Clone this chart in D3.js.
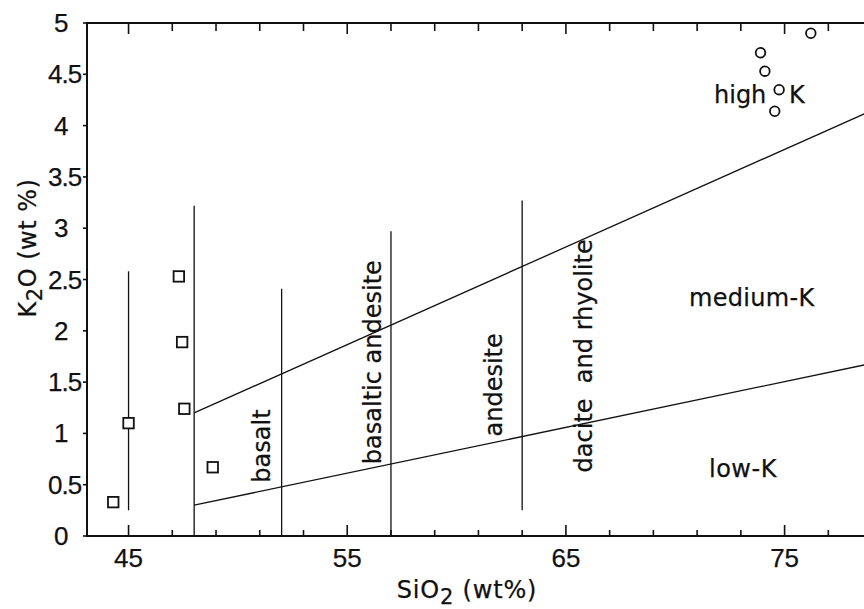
<!DOCTYPE html>
<html>
<head>
<meta charset="utf-8">
<script src="https://cdn.jsdelivr.net/npm/d3@7"></script>
<style>
  html, body { margin: 0; padding: 0; background: #fff; }
  svg { display: block; }
  text { font-family: "DejaVu Sans", sans-serif; fill: #111; stroke: #111; stroke-width: 0.25px; }
  .tick-label { font-family: "Liberation Sans", Arial, sans-serif; font-size: 26px; }
</style>
</head>
<body>
<svg id="chart" width="864" height="609"></svg>
<script>
// ---- data ----
const xMajorTicks = [45, 55, 65, 75];
const xMinorTicks = [47, 49, 51, 53, 57, 59, 61, 63, 67, 69, 71, 73, 77];
const yTicks = [0, 0.5, 1, 1.5, 2, 2.5, 3, 3.5, 4, 4.5, 5];
const yTickLabels = ["0", "0.5", "1", "1.5", "2", "2.5", "3", "3.5", "4", "4.5", "5"];

// vertical rock-type dividers (SiO2) with their K2O extents
const dividerSiO2 = [45, 48, 52, 57, 63];
const dividerTop = [2.58, 3.22, 2.41, 2.97, 3.27];
const dividerBottom = [0.25, 0, 0, 0, 0.25];

// K-series boundary lines [SiO2, K2O]
const highMediumBoundary = [[48, 1.2], [78.7, 4.12]];
const mediumLowBoundary = [[48, 0.3], [78.7, 1.67]];

// samples: squares
const squareSiO2 = [44.3, 45.0, 47.3, 47.45, 47.55, 48.85];
const squareK2O = [0.33, 1.10, 2.53, 1.89, 1.24, 0.67];
// samples: circles
const circleSiO2 = [76.2, 73.9, 74.1, 74.75, 74.55];
const circleK2O = [4.90, 4.71, 4.53, 4.35, 4.14];

// field labels
const verticalLabels = ["basalt", "basaltic andesite", "andesite", "dacite  and rhyolite"];
const verticalLabelSiO2 = [51.45, 56.55, 62.1, 66.2];
const verticalLabelK2O = [0.52, 0.7, 0.97, 0.62];

// ---- drawing ----
const svg = d3.select("#chart");
const x = d3.scaleLinear().domain([43.1, 78.7]).range([87, 865.5]);
const y = d3.scaleLinear().domain([0, 5]).range([536, 23]);
const xLeft = x.range()[0], xRight = 864;
const yBottom = y(0), yTop = y(5);

// frame (left, bottom, top)
svg.append("path")
  .attr("d", `M${xRight},${yTop} L${xLeft},${yTop} L${xLeft},${yBottom} L${xRight},${yBottom}`)
  .attr("fill", "none").attr("stroke", "#111").attr("stroke-width", 2);

// bottom ticks (inward) and top ticks (inward)
const allX = xMajorTicks.map(v => ({v, major: true})).concat(xMinorTicks.map(v => ({v, major: false})));
svg.append("g").selectAll("line.bt").data(allX).join("line")
  .attr("x1", d => x(d.v)).attr("x2", d => x(d.v))
  .attr("y1", yBottom).attr("y2", d => yBottom - (d.major ? 11 : 6))
  .attr("stroke", "#111").attr("stroke-width", 1.6);
svg.append("g").selectAll("line.tt").data(allX).join("line")
  .attr("x1", d => x(d.v)).attr("x2", d => x(d.v))
  .attr("y1", yTop).attr("y2", d => yTop + (d.major ? 11 : 8))
  .attr("stroke", "#111").attr("stroke-width", 1.6);

// x tick labels
svg.append("g").selectAll("text").data(xMajorTicks).join("text")
  .attr("class", "tick-label")
  .attr("x", d => x(d)).attr("y", yBottom + 31)
  .attr("text-anchor", "middle")
  .text(d => d);

// y ticks (outward, small)
svg.append("g").selectAll("line").data(yTicks).join("line")
  .attr("x1", xLeft).attr("x2", xLeft - 4)
  .attr("y1", d => y(d)).attr("y2", d => y(d))
  .attr("stroke", "#111").attr("stroke-width", 1.6);
svg.append("g").selectAll("text").data(yTicks).join("text")
  .attr("class", "tick-label")
  .attr("x", (d, i) => Number.isInteger(d) ? 54 : 48)
  .attr("y", d => y(d) + 9)
  .attr("letter-spacing", -1)
  .text((d, i) => yTickLabels[i]);

// axis titles
const xt = svg.append("text")
  .attr("x", 467).attr("y", 598)
  .attr("text-anchor", "middle")
  .attr("font-size", 24).attr("letter-spacing", 0.8);
xt.append("tspan").text("SiO");
xt.append("tspan").attr("dy", 6).attr("font-size", 21).text("2");
xt.append("tspan").attr("dy", -6).text(" (wt%)");

const yt = svg.append("text")
  .attr("transform", "translate(36,248) rotate(-90)")
  .attr("text-anchor", "middle")
  .attr("font-size", 24).attr("letter-spacing", 0.5);
yt.append("tspan").text("K");
yt.append("tspan").attr("dy", 6).attr("font-size", 21).text("2");
yt.append("tspan").attr("dy", -6).text("O (wt %)");

// dividers
svg.append("g").selectAll("line").data(dividerSiO2).join("line")
  .attr("x1", d => x(d)).attr("x2", d => x(d))
  .attr("y1", (d, i) => y(dividerTop[i])).attr("y2", (d, i) => y(dividerBottom[i]))
  .attr("stroke", "#111").attr("stroke-width", 1.3);

// boundary lines
const line = d3.line().x(d => x(d[0])).y(d => y(d[1]));
[highMediumBoundary, mediumLowBoundary].forEach(b => {
  svg.append("path").attr("d", line(b))
    .attr("fill", "none").attr("stroke", "#111").attr("stroke-width", 1.3);
});

// vertical field labels
svg.append("g").selectAll("text").data(verticalLabels).join("text")
  .attr("transform", (d, i) => `translate(${x(verticalLabelSiO2[i])},${y(verticalLabelK2O[i])}) rotate(-90)`)
  .attr("font-size", 24)
  .style("white-space", "pre")
  .text(d => d);

// series labels
const hk = svg.append("text").attr("x", 714).attr("y", 103).attr("font-size", 24);
hk.append("tspan").text("high");
hk.append("tspan").attr("x", 789).text("K");
svg.append("text").attr("x", 689).attr("y", 306).attr("font-size", 24).attr("letter-spacing", 0.3).text("medium-K");
svg.append("text").attr("x", 709).attr("y", 477).attr("font-size", 24).attr("letter-spacing", 0.5).text("low-K");

// squares
const sq = 10.5;
svg.append("g").selectAll("rect").data(squareSiO2).join("rect")
  .attr("x", d => x(d) - sq / 2)
  .attr("y", (d, i) => y(squareK2O[i]) - sq / 2)
  .attr("width", sq).attr("height", sq)
  .attr("fill", "#fff").attr("stroke", "#111").attr("stroke-width", 1.8);

// circles
svg.append("g").selectAll("circle").data(circleSiO2).join("circle")
  .attr("cx", d => x(d))
  .attr("cy", (d, i) => y(circleK2O[i]))
  .attr("r", 4.8)
  .attr("fill", "none").attr("stroke", "#111").attr("stroke-width", 1.8);
</script>
</body>
</html>
